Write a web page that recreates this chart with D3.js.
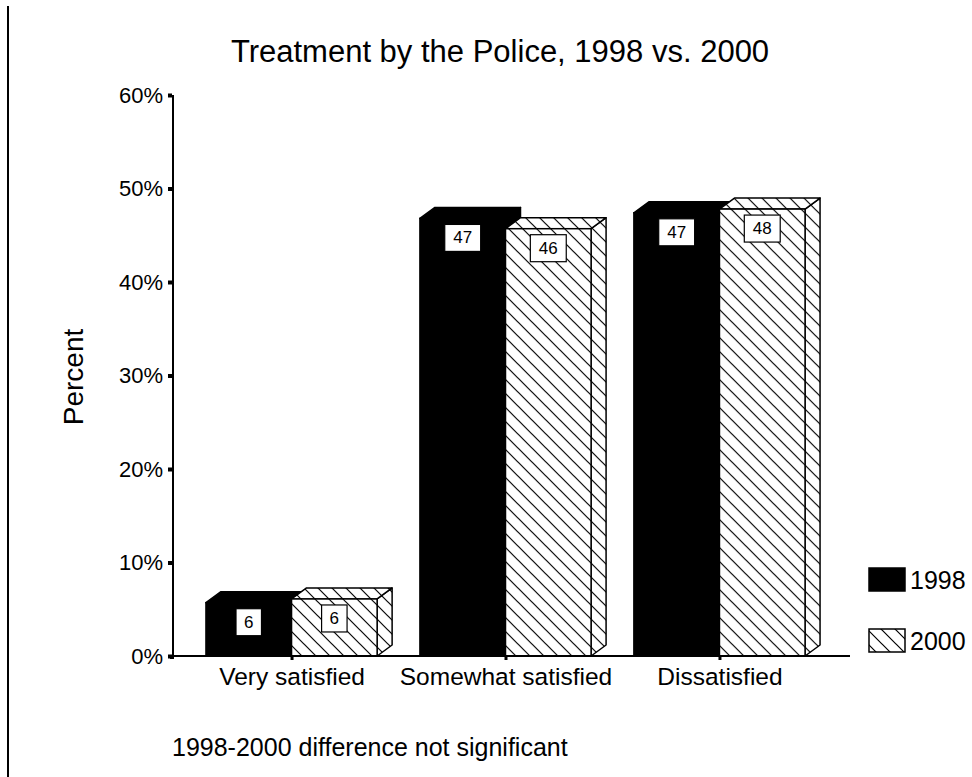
<!DOCTYPE html>
<html>
<head>
<meta charset="utf-8">
<script src="https://cdn.jsdelivr.net/npm/d3@7"></script>
<style>
  html, body { margin: 0; padding: 0; background: #fff; }
  svg { display: block; }
  text { font-family: Arial, "Liberation Sans", sans-serif; fill: #000; }
</style>
</head>
<body>
<svg id="chart" width="972" height="777"></svg>
<script>
const categories = ["Very satisfied", "Somewhat satisfied", "Dissatisfied"];
const seriesNames = ["1998", "2000"];
const values1998 = [5.7, 46.8, 47.4];
const values2000 = [6.1, 45.7, 47.8];
const labels1998 = ["6", "47", "47"];
const labels2000 = ["6", "46", "48"];
const yTickValues = [0, 10, 20, 30, 40, 50, 60];
const yTickLabels = ["0%", "10%", "20%", "30%", "40%", "50%", "60%"];
const titleText = "Treatment by the Police, 1998 vs. 2000";
const yAxisTitle = "Percent";
const footnote = "1998-2000 difference not significant";

const svg = d3.select("#chart");
const DX = 15, DY = -11;

const defs = svg.append("defs");
const pat = defs.append("pattern")
  .attr("id", "hatch").attr("patternUnits", "userSpaceOnUse")
  .attr("width", 14).attr("height", 14);
pat.append("rect").attr("width", 14).attr("height", 14).attr("fill", "#fff");
pat.append("path").attr("d", "M-1,-1 L15,15 M-8,6 L1,15 M6,-8 L15,1")
  .attr("stroke", "#000").attr("stroke-width", 1.2);

// page border line at left
svg.append("line").attr("x1", 8).attr("x2", 8).attr("y1", 6).attr("y2", 777)
  .attr("stroke", "#000").attr("stroke-width", 2);

const y = d3.scaleLinear().domain([0, 60]).range([656, 95]);
const x0 = d3.scaleBand().domain(categories).range([173, 838])
  .paddingInner(0.2).paddingOuter(0.154);
const x1 = d3.scaleBand().domain(seriesNames).range([0, x0.bandwidth()]).padding(0);

// title
svg.append("text").attr("x", 500).attr("y", 62).attr("text-anchor", "middle")
  .style("font-size", "31px").text(titleText);

// y axis
const yAxis = d3.axisLeft(y).tickValues(yTickValues)
  .tickFormat((d, i) => yTickLabels[i]).tickSize(0).tickPadding(10);
const gy = svg.append("g").attr("transform", "translate(173,0)").call(yAxis);
gy.select(".domain").remove();
gy.selectAll("text").style("font-size", "22px").style("font-family", "Arial, 'Liberation Sans', sans-serif");
gy.selectAll(".tick").append("rect").attr("x", -5).attr("y", -2).attr("width", 4).attr("height", 4).attr("fill", "#000");
svg.append("line").attr("x1", 173).attr("x2", 173).attr("y1", y(60)).attr("y2", y(0))
  .attr("stroke", "#000").attr("stroke-width", 2);

// y axis title
svg.append("text").attr("transform", "translate(83,377) rotate(-90)")
  .attr("text-anchor", "middle").style("font-size", "28px").text(yAxisTitle);

// bars
const data = categories.map((c, i) => ({
  cat: c,
  bars: [
    { s: "1998", v: values1998[i], lab: labels1998[i] },
    { s: "2000", v: values2000[i], lab: labels2000[i] }
  ]
}));

const groups = svg.append("g").selectAll("g").data(data).join("g")
  .attr("transform", d => `translate(${x0(d.cat)},0)`);

groups.each(function(d) {
  const g = d3.select(this);
  d.bars.forEach(b => {
    const bx = x1(b.s), bw = x1.bandwidth();
    const top = y(b.v), bot = y(0);
    const fill = b.s === "1998" ? "#000" : "url(#hatch)";
    const sw = 1.5;
    // side face
    g.append("path")
      .attr("d", `M${bx + bw},${bot} L${bx + bw + DX},${bot + DY} L${bx + bw + DX},${top + DY} L${bx + bw},${top} Z`)
      .attr("fill", fill).attr("stroke", "#000").attr("stroke-width", sw).attr("stroke-linejoin", "round");
    // top face
    g.append("path")
      .attr("d", `M${bx},${top} L${bx + DX},${top + DY} L${bx + bw + DX},${top + DY} L${bx + bw},${top} Z`)
      .attr("fill", fill).attr("stroke", "#000").attr("stroke-width", sw).attr("stroke-linejoin", "round");
    // front face
    g.append("rect").attr("x", bx).attr("y", top).attr("width", bw).attr("height", bot - top)
      .attr("fill", fill).attr("stroke", "#000").attr("stroke-width", sw);
  });
  d.bars.forEach(b => {
    const bx = x1(b.s), bw = x1.bandwidth();
    const top = y(b.v);
    const t = g.append("text").attr("x", bx + bw / 2).attr("y", top + 25)
      .attr("text-anchor", "middle").style("font-size", "17px").text(b.lab);
    const tw = t.node().getComputedTextLength();
    const w = b.lab.length > 1 ? tw + 17 : tw + 16;
    g.insert("rect", "text").attr("x", bx + bw / 2 - w / 2).attr("y", top + 6)
      .attr("width", w).attr("height", 27)
      .attr("fill", "#fff").attr("stroke", "#000").attr("stroke-width", 1.2);
  });
});

// baseline
svg.append("line").attr("x1", 172).attr("x2", 850).attr("y1", 656).attr("y2", 656)
  .attr("stroke", "#000").attr("stroke-width", 2);

// x axis
const xAxis = d3.axisBottom(d3.scalePoint().domain(categories)
  .range([x0(categories[0]) + x0.bandwidth() / 2, x0(categories[2]) + x0.bandwidth() / 2]))
  .tickSize(0).tickPadding(12);
const gx = svg.append("g").attr("transform", "translate(0,656)").call(xAxis);
gx.select(".domain").remove();
gx.selectAll("text").style("font-size", "24.5px").style("font-family", "Arial, 'Liberation Sans', sans-serif");
gx.selectAll(".tick").append("rect").attr("x", -1.5).attr("y", 0).attr("width", 3).attr("height", 4).attr("fill", "#000");
svg.append("rect").attr("x", 170).attr("y", 655).attr("width", 4).attr("height", 4).attr("fill", "#000");

// legend
const legend = svg.append("g");
seriesNames.forEach((s, i) => {
  const ly = 568 + i * 61;
  legend.append("rect").attr("x", 869).attr("y", ly).attr("width", 36).attr("height", 23)
    .attr("fill", s === "1998" ? "#000" : "url(#hatch)").attr("stroke", "#000").attr("stroke-width", 1.5);
  legend.append("text").attr("x", 910).attr("y", ly + 21).style("font-size", "25px").text(s);
});

// footnote
svg.append("text").attr("x", 172).attr("y", 756).style("font-size", "25px").text(footnote);
</script>
</body>
</html>
